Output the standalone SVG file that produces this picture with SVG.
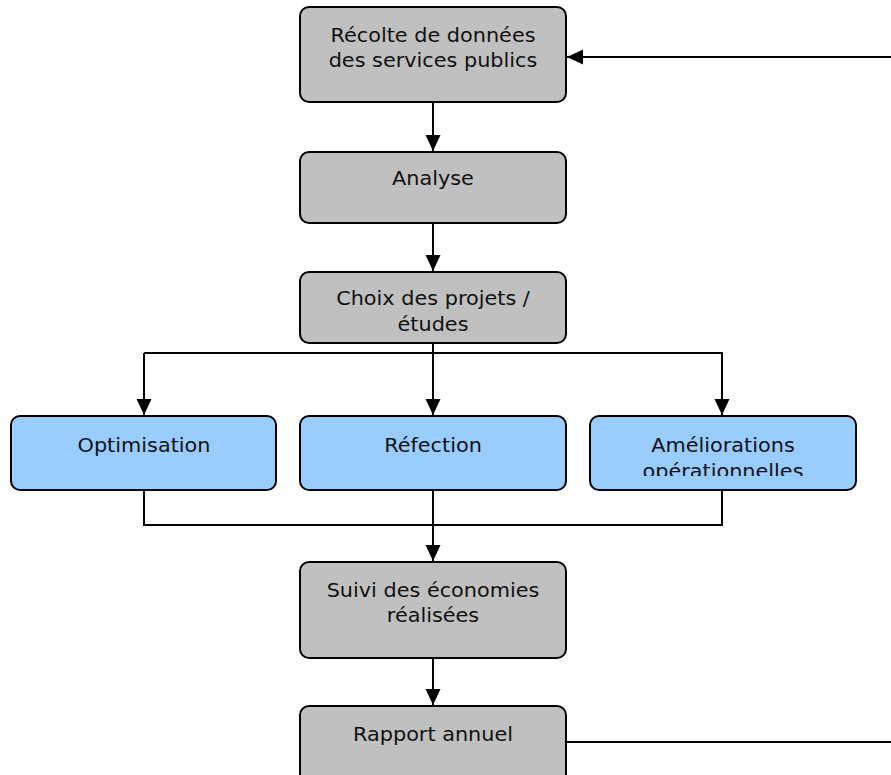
<svg xmlns="http://www.w3.org/2000/svg" width="891" height="775" viewBox="0 0 891 775">
<style>
.box{stroke:#000;stroke-width:2}
.gray{fill:#c0c0c0}
.blue{fill:#99ccff}
.t{font-family:"DejaVu Sans","Liberation Sans",sans-serif;font-size:20px;fill:#111;text-anchor:middle}
.c{fill:none;stroke:#000;stroke-width:2}
</style>
<defs>
<marker id="ah" markerUnits="userSpaceOnUse" markerWidth="17" markerHeight="17" viewBox="0 0 17 17" refX="16" refY="8.5" orient="auto">
<path d="M0,1 L16,8.5 L0,16 Z" fill="#000"/>
</marker>
<clipPath id="clipAm"><rect x="590" y="416" width="266" height="60"/></clipPath>
</defs>
<rect width="891" height="775" fill="#fff"/>
<g id="connectors">
<line class="c" x1="433" y1="102" x2="433" y2="151" marker-end="url(#ah)"/>
<line class="c" x1="433" y1="223" x2="433" y2="271" marker-end="url(#ah)"/>
<line class="c" x1="433" y1="343" x2="433" y2="415" marker-end="url(#ah)"/>
<polyline class="c" points="144,353 722,353 722,415" marker-end="url(#ah)"/>
<line class="c" x1="144" y1="353" x2="144" y2="415" marker-end="url(#ah)"/>
<polyline class="c" points="144,490 144,525 722,525 722,490"/>
<line class="c" x1="433" y1="490" x2="433" y2="561" marker-end="url(#ah)"/>
<line class="c" x1="433" y1="658" x2="433" y2="705" marker-end="url(#ah)"/>
<line class="c" x1="566" y1="742" x2="891" y2="742"/>
<line class="c" x1="891" y1="57" x2="567" y2="57" marker-end="url(#ah)"/>
</g>
<g id="n1"><rect class="box gray" x="300" y="7" width="266" height="95" rx="9"/>
<text class="t" transform="translate(433,42) scale(1.04,1)">Récolte de données</text>
<text class="t" transform="translate(433,67) scale(1.04,1)">des services publics</text></g>
<g id="n2"><rect class="box gray" x="300" y="152" width="266" height="71" rx="9"/>
<text class="t" transform="translate(433,185) scale(1.04,1)">Analyse</text></g>
<g id="n3"><rect class="box gray" x="300" y="272" width="266" height="71" rx="9"/>
<text class="t" transform="translate(433,305) scale(1.04,1)">Choix des projets /</text>
<text class="t" transform="translate(433,331) scale(1.04,1)">études</text></g>
<g id="n4"><rect class="box blue" x="11" y="416" width="265" height="74" rx="9"/>
<text class="t" transform="translate(144,452) scale(1.04,1)">Optimisation</text></g>
<g id="n5"><rect class="box blue" x="300" y="416" width="266" height="74" rx="9"/>
<text class="t" transform="translate(433,452) scale(1.04,1)">Réfection</text></g>
<g id="n6"><rect class="box blue" x="590" y="416" width="266" height="74" rx="9"/>
<g clip-path="url(#clipAm)">
<text class="t" transform="translate(723,452) scale(1.04,1)">Améliorations</text>
<text class="t" transform="translate(723,478) scale(1.04,1)">opérationnelles</text></g></g>
<g id="n7"><rect class="box gray" x="300" y="562" width="266" height="96" rx="9"/>
<text class="t" transform="translate(433,597) scale(1.04,1)">Suivi des économies</text>
<text class="t" transform="translate(433,622) scale(1.04,1)">réalisées</text></g>
<g id="n8"><rect class="box gray" x="300" y="706" width="266" height="80" rx="9"/>
<text class="t" transform="translate(433,741) scale(1.04,1)">Rapport annuel</text></g>
</svg>
